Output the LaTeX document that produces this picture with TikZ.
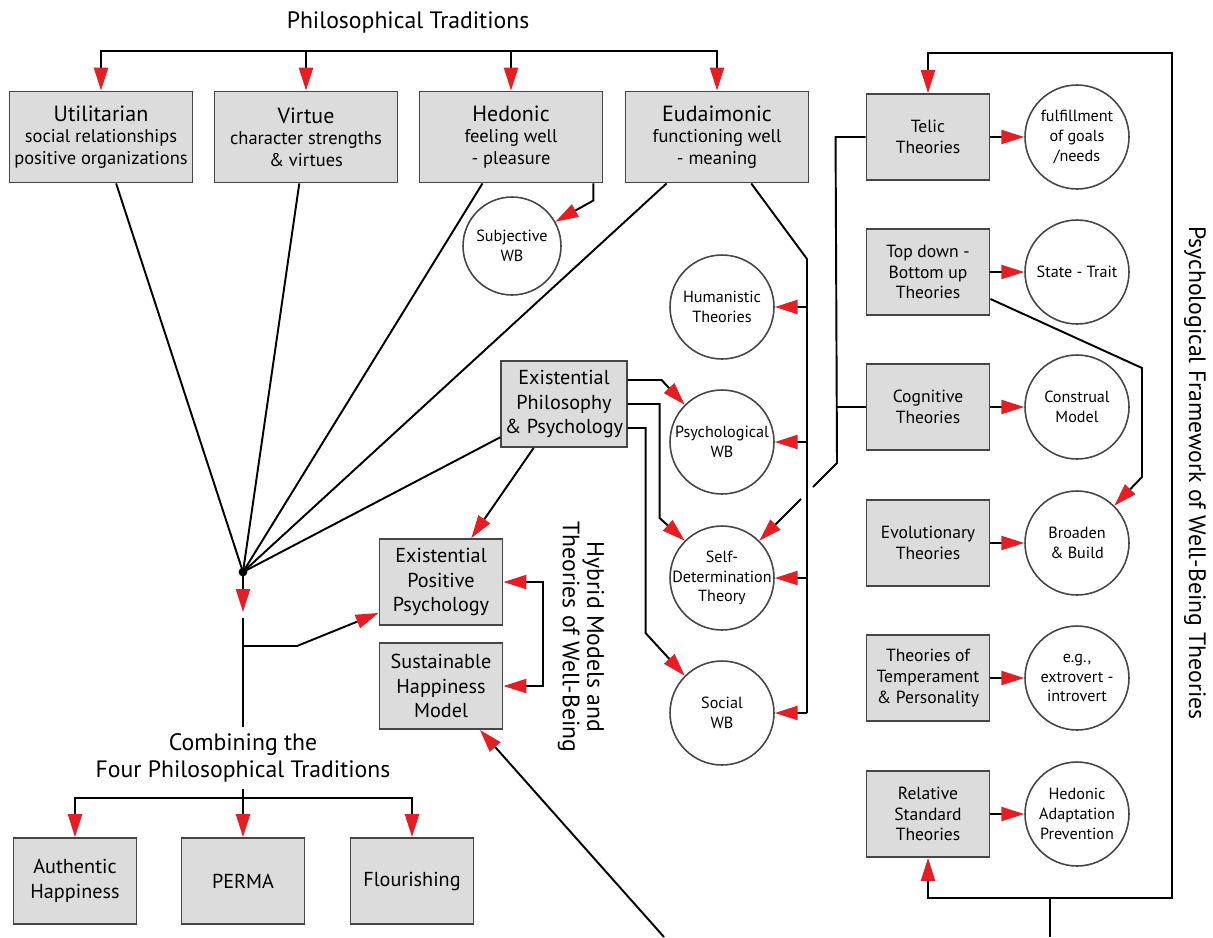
\documentclass[tikz,border=0pt]{standalone}
\usepackage{fontspec}
\setmainfont{PT Sans}
\usetikzlibrary{arrows.meta,calc}
\definecolor{arrowred}{RGB}{230,30,36}
\definecolor{boxgray}{RGB}{221,220,220}
\definecolor{edgegray}{RGB}{70,70,70}
\tikzset{
  link/.style={line width=1.1pt},
  redarrow/.style={link,-{Triangle[color=arrowred,length=13pt,width=8pt]}},
  theorybox/.style={draw=edgegray,fill=boxgray,line width=1.1pt,minimum width=2.46cm,minimum height=1.72cm,inner sep=2pt,align=center,font=\fontsize{10}{11.8}\selectfont},
  hybridbox/.style={theorybox,font=\fontsize{11.5}{14}\selectfont},
  tradbox/.style={theorybox,minimum width=3.66cm,minimum height=1.82cm,font=\fontsize{10.5}{12.2}\selectfont},
  bubble/.style={circle,draw=edgegray,fill=white,line width=0.9pt,minimum size=2.08cm,inner sep=-4pt,align=center,font=\fontsize{9.2}{11.2}\selectfont},
  heading/.style={align=center,font=\fontsize{13.5}{15.5}\selectfont},
}
\newcommand\tradname[1]{{\fontsize{12.5}{15}\selectfont #1}}
\begin{document}
\begin{tikzpicture}[x=0.02cm,y=-0.02cm]
    \useasboundingbox (0,0) rectangle (1213,937);
    % philosophical traditions
    \node[heading] (ptrad) at (408,22) {Philosophical Traditions};
    \node[tradbox] (util) at (101,137) {\tradname{Utilitarian}\\social relationships\\positive organizations};
    \node[tradbox] (virtue) at (306,137) {\tradname{Virtue}\\character strengths\\\& virtues};
    \node[tradbox] (hedonic) at (511,137) {\tradname{Hedonic}\\feeling well\\- pleasure};
    \node[tradbox] (eudai) at (717,137) {\tradname{Eudaimonic}\\functioning well\\- meaning};
    \coordinate (bar) at (408,51);
    \foreach \b in {util,virtue,hedonic,eudai}
        \draw[redarrow] (bar) -| (\b);
    \node[bubble,minimum size=1.96cm] (subj) at (512,246) {Subjective\\WB};
    \draw[redarrow] (hedonic.south east) ++(-10,0) -- ++(0,17) -- (subj);

    % eudaimonic branch
    \foreach \y/\nm/\txt in {307/human/{Humanistic\\Theories},442/psywb/{Psychological\\WB},578/sdt/{Self-\\Determination\\Theory},713/socwb/{Social\\WB}}
        \node[bubble] (\nm) at (722,\y) {\txt};
    \coordinate (spine) at (807,259);
    \draw[link] (eudai) -- (spine) -- (spine |- socwb);
    \foreach \nm in {human,psywb,sdt,socwb}
        \draw[redarrow] (\nm -| spine) -- (\nm);

    % existential
    \node[hybridbox] (exist) at (564,404) {Existential\\Philosophy\\\& Psychology};
    \draw[redarrow] (exist.east) ++(0,-24) -- ++(34,0) -- (psywb.135);
    \draw[redarrow] (exist.east) -- ++(32,0) -- ++(0,114) -- (sdt.135);
    \draw[redarrow] (exist.east) ++(0,24) -- ++(18,0) -- ++(0,205) -- (socwb.135);

    % hub
    \coordinate (hub) at (243,572);
    \foreach \b in {util,virtue,hedonic,eudai,exist}
        \draw[link] (hub) -- (\b);
    \fill (hub) circle (2.5pt);

    % hybrid models
    \node[hybridbox] (epp) at (441,582) {Existential\\Positive\\Psychology};
    \node[hybridbox] (shm) at (441,686) {Sustainable\\Happiness\\Model};
    \draw[redarrow] (exist) -- (epp);
    \coordinate (brk) at (543,635);
    \draw[redarrow] (brk) |- (epp.east);
    \draw[redarrow] (brk) |- (shm.east);
    \node[heading,rotate=-90,font=\fontsize{13.5}{14}\selectfont] (hybrid) at (581,637) {Hybrid Models and\\Theories of Well-Being};

    % combining
    \node[heading] (comb) at (243,758) {Combining the\\Four Philosophical Traditions};
    \draw[redarrow] (hub) -- (243,612);
    \draw[link] (243,618) -- (comb.north);
    \draw[redarrow] (243,646) -- (297,646) -- ($(epp.south west)+(0,-13)$);
    \coordinate (fork) at (243,798);
    \draw[link] (comb.south) -- (fork);
    \node[hybridbox] (authentic) at (75,881) {Authentic\\Happiness};
    \node[hybridbox] (perma) at (243,881) {PERMA};
    \node[hybridbox] (flourish) at (412,881) {Flourishing};
    \foreach \b in {authentic,perma,flourish}
        \draw[redarrow] (fork) -| (\b);

    % psychological framework
    \foreach \y/\th/\thtext/\rs/\rstext in {
        137/telic/{Telic\\Theories}/goals/{fulfillment\\of goals\\/needs},
        272/topdown/{Top down -\\Bottom up\\Theories}/trait/{State - Trait},
        407/cogn/{Cognitive\\Theories}/construal/{Construal\\Model},
        543/evol/{Evolutionary\\Theories}/broaden/{Broaden\\\& Build},
        678/temper/{Theories of\\Temperament\\\& Personality}/extro/{e.g.,\\extrovert -\\introvert},
        814/relstd/{Relative\\Standard\\Theories}/adapt/{Hedonic\\Adaptation\\Prevention}}
    {
        \node[theorybox] (\th) at (928,\y) {\thtext};
        \node[bubble] (\rs) at (1077,\y) {\rstext};
        \draw[redarrow] (\th) -- (\rs);
    }
    \draw[link] (telic.west) -- ++(-30,0) -- (837,463) -- (813,487);
    \draw[redarrow] (801,499) -- (sdt.45);
    \draw[link] (cogn.west) -- ++(-30,0);
    \draw[redarrow] (topdown.east) ++(0,27) -- (1142,368) -- (1142,477) -- (broaden.45);
    \coordinate (frame) at (1050,898);
    \draw[redarrow] (frame) -- (1172,898) -- (1172,53) -| (telic);
    \draw[redarrow] (frame) -| (relstd);
    \node[heading,rotate=-90] (psyframe) at (1195,473) {Psychological Framework of Well-Being Theories};

    % cut at the lower edge
    \coordinate (cutright) at (1050,937);
    \coordinate (cutleft) at (664,937);
    \draw[link] (frame) -- (cutright);
    \draw[redarrow] (cutleft) -- (shm);
\end{tikzpicture}
\end{document}
